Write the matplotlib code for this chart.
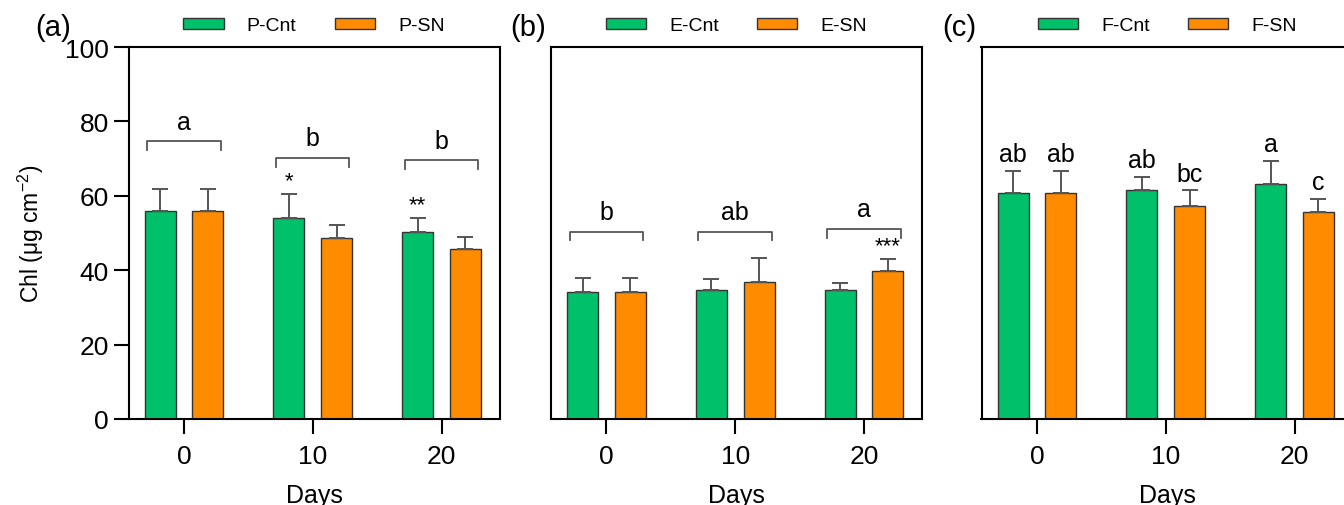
import numpy as np
import matplotlib
matplotlib.use("Agg")
import matplotlib.pyplot as plt

plt.rcParams['font.family'] = ['Liberation Sans', 'DejaVu Sans']

# --- data
days = [0, 10, 20]
panels = ["(a)", "(b)", "(c)"]
cnt_labels = ["P-Cnt", "E-Cnt", "F-Cnt"]
sn_labels = ["P-SN", "E-SN", "F-SN"]

p_cnt = [56.0, 54.0, 50.2]
p_cnt_err = [5.8, 6.4, 3.7]
p_sn = [56.0, 48.7, 45.6]
p_sn_err = [5.8, 3.5, 3.4]

e_cnt = [34.1, 34.6, 34.7]
e_cnt_err = [3.7, 3.1, 1.9]
e_sn = [34.1, 36.9, 39.7]
e_sn_err = [3.7, 6.5, 3.2]

f_cnt = [60.8, 61.6, 63.3]
f_cnt_err = [5.9, 3.5, 6.1]
f_sn = [60.8, 57.3, 55.6]
f_sn_err = [5.9, 4.2, 3.6]

# group letters on brackets (panels a, b)
p_group = ["a", "b", "b"]
p_bracket = [74.6, 70.2, 69.6]
e_group = ["b", "ab", "a"]
e_bracket = [50.4, 50.4, 51.1]

# per-bar letters (panel c)
f_cnt_letters = ["ab", "ab", "a"]
f_sn_letters = ["ab", "bc", "c"]

# significance stars
p_cnt_stars = ["", "*", "**"]
e_sn_stars = ["", "", "***"]

GREEN = "#00c16a"
ORANGE = "#ff8c00"
GRAY = "#555555"
OFF = 1.85
W = 2.4

fig = plt.figure(figsize=(13.44, 5.06), dpi=100)
lefts = [128.5, 551, 981.5]
label_x = [35, 510, 942]
axes = [fig.add_axes([l / 1344, 86 / 506, 371 / 1344, 372 / 506]) for l in lefts]

data = [
    (p_cnt, p_cnt_err, p_sn, p_sn_err),
    (e_cnt, e_cnt_err, e_sn, e_sn_err),
    (f_cnt, f_cnt_err, f_sn, f_sn_err),
]

x = np.array(days, dtype=float)
for i, ax in enumerate(axes):
    c, ce, s, se = data[i]
    ekw = dict(ecolor=GRAY, elinewidth=1.4, capsize=6, capthick=1.4)
    ax.bar(x - OFF, c, W, color=GREEN, edgecolor="#333333", linewidth=1.0,
           yerr=[np.zeros(3), ce], error_kw=ekw, label=cnt_labels[i], zorder=2)
    ax.bar(x + OFF, s, W, color=ORANGE, edgecolor="#333333", linewidth=1.0,
           yerr=[np.zeros(3), se], error_kw=ekw, label=sn_labels[i], zorder=2)
    ax.set_xlim(-4.3, 24.5)
    ax.set_ylim(0, 100)
    ax.set_xticks(days)
    ax.set_xticklabels([str(d) for d in days], fontsize=19)
    ax.set_xlabel("Days", fontsize=18, labelpad=11)
    for sp in ax.spines.values():
        sp.set_linewidth(1.5)
    ax.tick_params(axis="x", length=11, width=1.5, pad=7)
    if i == 0:
        ax.set_yticks(range(0, 101, 20))
        ax.tick_params(axis="y", length=11, width=1.5, labelsize=19, pad=3)
        ax.set_ylabel("Chl (μg cm$^{\\mathregular{-2}}$)", fontsize=16.5, labelpad=14)
    else:
        ax.tick_params(axis="y", left=False, labelleft=False)
    ax.legend(loc="center", bbox_to_anchor=(0.5, 1.057), ncol=2, frameon=False,
              fontsize=14, handlelength=2.06, handleheight=0.46,
              handletextpad=1.2, columnspacing=1.95, borderaxespad=0)
    fig.text(label_x[i] / 1344, 1 - 28 / 506, panels[i], fontsize=21,
             ha="left", va="center")

# brackets with group letters
for ax, grp, hb in [(axes[0], p_group, p_bracket), (axes[1], e_group, e_bracket)]:
    for d, g, h in zip(days, grp, hb):
        ax.plot([d - 2.85, d - 2.85, d + 2.85, d + 2.85], [h - 2.4, h, h, h - 2.4],
                color=GRAY, lw=1.3, zorder=3)
        ax.text(d, h + 2.0, g, ha="center", va="bottom", fontsize=18)

# stars
for d, v, e, st in zip(days, p_cnt, p_cnt_err, p_cnt_stars):
    if st:
        axes[0].text(d - OFF, v + e + 0.8, st, ha="center", va="bottom", fontsize=16)
for d, v, e, st in zip(days, e_sn, e_sn_err, e_sn_stars):
    if st:
        axes[1].text(d + OFF, v + e + 0.8, st, ha="center", va="bottom", fontsize=16)

# panel c letters
for d, v, e, t in zip(days, f_cnt, f_cnt_err, f_cnt_letters):
    axes[2].text(d - OFF, v + e + 1.2, t, ha="center", va="bottom", fontsize=18)
for d, v, e, t in zip(days, f_sn, f_sn_err, f_sn_letters):
    axes[2].text(d + OFF, v + e + 1.2, t, ha="center", va="bottom", fontsize=18)

fig.savefig("out.png", dpi=100)
